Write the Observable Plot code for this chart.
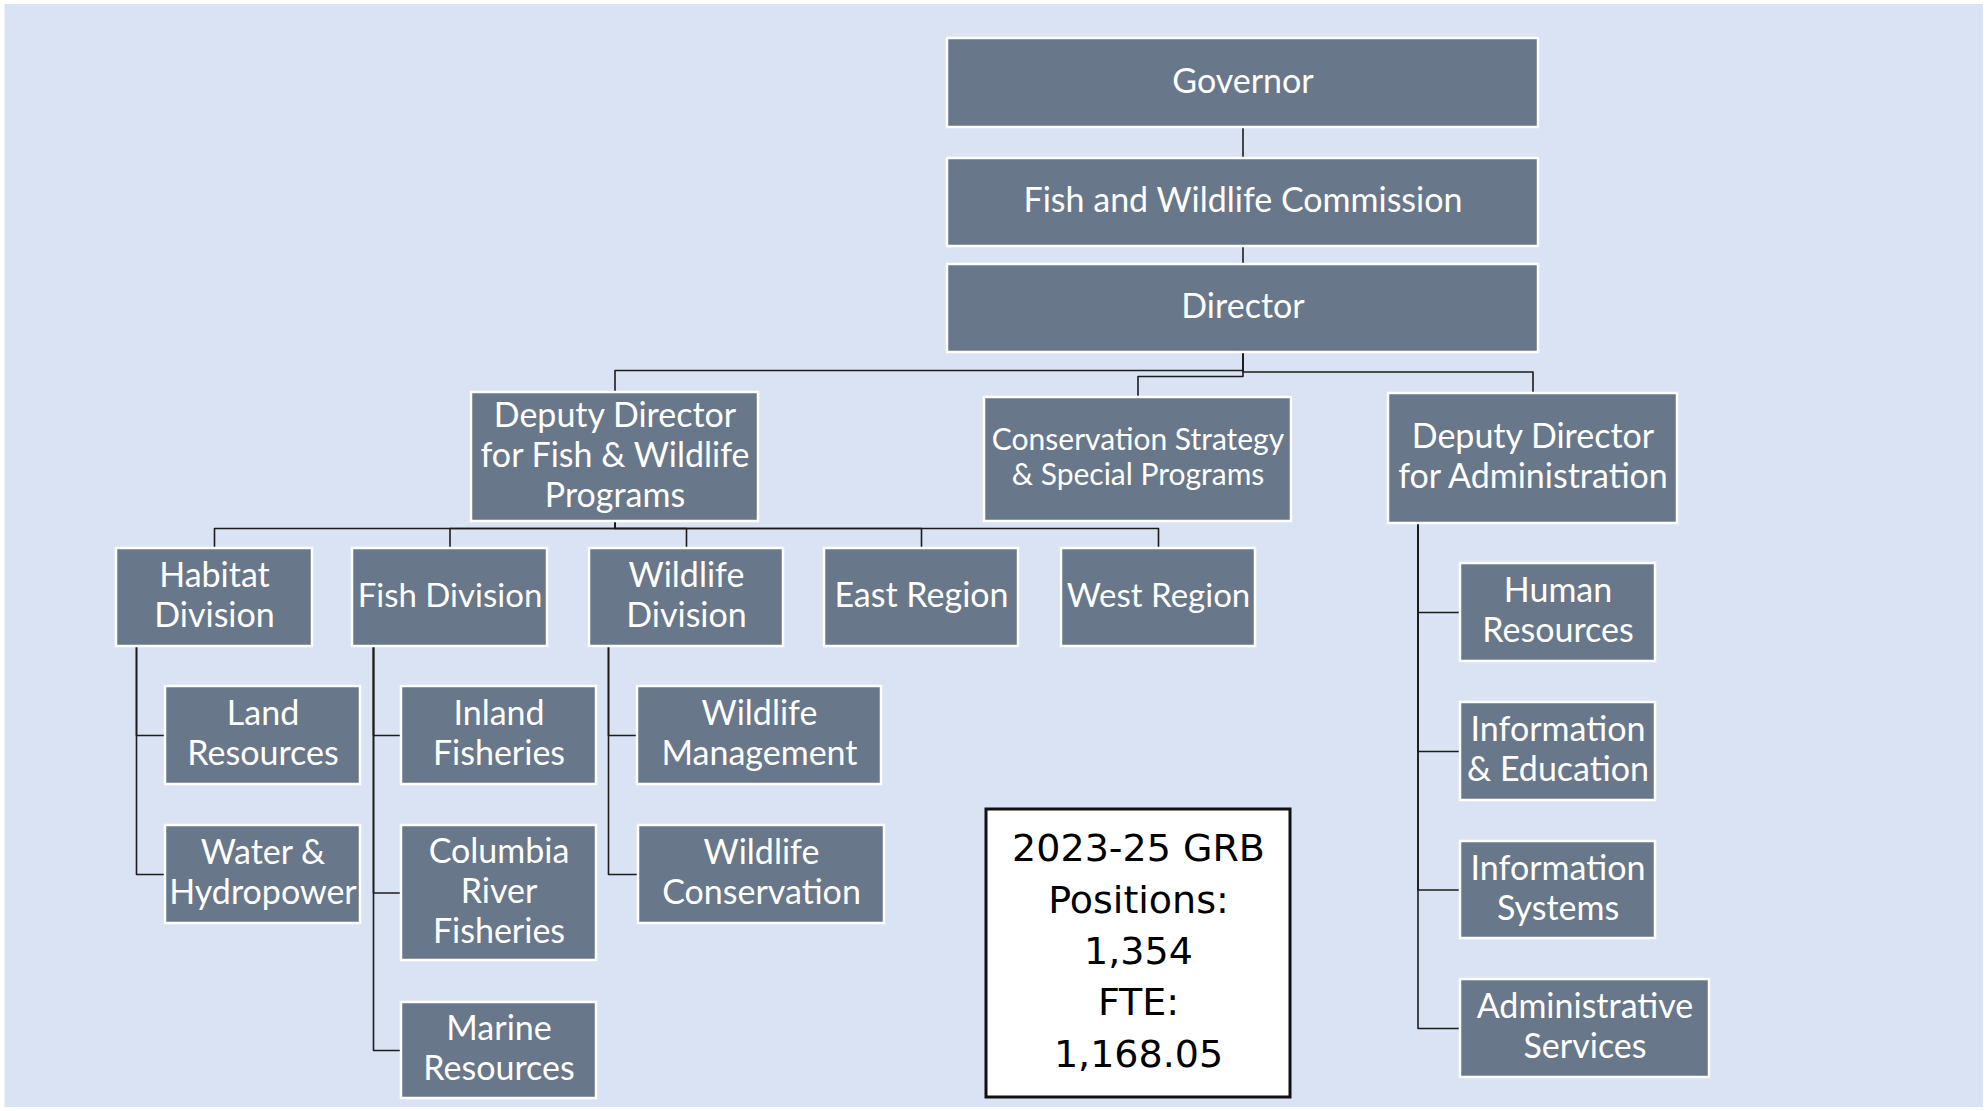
<!DOCTYPE html>
<html><head><meta charset="utf-8">
<script src="https://cdn.jsdelivr.net/npm/d3@7"></script>
<script src="https://cdn.jsdelivr.net/npm/@observablehq/plot@0.6"></script>
<style>html,body{margin:0;padding:0;background:#fff;overflow:hidden}svg{display:block}</style>
</head><body><div id="chart"></div>
<script>
// ---- DATA: organisation units and reporting lines ----
const unitIds = ["gov","comm","dir","ddfw","csp","ddadm","hab","fish","wild","east","west",
  "land","water","inland","columbia","marine","wmgmt","wcons","hr","ie","is","as"];
const unitLabels = ["Governor","Fish and Wildlife Commission","Director",
  "Deputy Director\nfor Fish & Wildlife\nPrograms","Conservation Strategy\n& Special Programs",
  "Deputy Director\nfor Administration","Habitat\nDivision","Fish Division","Wildlife\nDivision",
  "East Region","West Region","Land\nResources","Water &\nHydropower","Inland\nFisheries",
  "Columbia\nRiver\nFisheries","Marine\nResources","Wildlife\nManagement","Wildlife\nConservation",
  "Human\nResources","Information\n& Education","Information\nSystems","Administrative\nServices"];
const unitParents = [null,"gov","comm","dir","dir","dir","ddfw","ddfw","ddfw","ddfw","ddfw",
  "hab","hab","fish","fish","fish","wild","wild","ddadm","ddadm","ddadm","ddadm"];
const summaryTitle = "2023-25 GRB";
const summaryPositions = 1354;
const summaryFTE = 1168.05;

// ---- LAYOUT (chart-space units, drawn through the x/y scales) ----
const boxLeft   = [947,947,947,471,984,1388,116,352,589,824,1061,165,165,401,401,401,637,638,1460,1460,1460,1460];
const boxRight  = [1538,1538,1538,758,1291,1677,312,547,783,1018,1255,360,360,596,596,596,881,884,1655,1655,1655,1709];
const boxTop    = [38,158,264,392,397,393,548,548,548,548,548,686,825,686,825,1002,686,825,563,702,841,979];
const boxBottom = [127,246,352,521,521,523,646,646,646,646,646,784,923,784,960,1098,784,923,661,800,938,1077];
const labelSize = [34,34,34,34,30,34,34,33,34,34,33,34,34,34,34,34,34,34,34,34,34,34];
const labelShift = -3;
// elbow connectors (drop from parent): horizontal run height per child
const elbowMid = {comm:140, dir:255, ddfw:370, csp:376, ddadm:371.5, hab:528, fish:528, wild:528, east:528, west:528};
// side connectors (trunk beside the children): trunk x per parent
const trunkX = {hab:136, fish:373, wild:608, ddadm:1417.5};
const summaryBox = {x1:986, x2:1290, y1:809, y2:1097, cy:947};
const canvas = {x1:4.5, x2:1983, y1:4, y2:1107};

const nodes = unitIds.map((id,i)=>({id, label:unitLabels[i], parent:unitParents[i],
  x1:boxLeft[i], x2:boxRight[i], y1:boxTop[i], y2:boxBottom[i], size:labelSize[i]}));
const byId = new Map(nodes.map(d=>[d.id,d]));
const cx = d => (d.x1+d.x2)/2, cy = d => (d.y1+d.y2)/2;

const linkPts = [];
nodes.forEach(c=>{
  if(!c.parent) return;
  const p = byId.get(c.parent);
  let pts;
  if (trunkX[p.id] !== undefined) {
    const t = trunkX[p.id];
    pts = [[t,p.y2],[t,cy(c)],[c.x1,cy(c)]];
  } else {
    const m = elbowMid[c.id];
    pts = [[cx(p),p.y2],[cx(p),m],[cx(c),m],[cx(c),c.y1]];
  }
  pts.forEach(([x,y])=>linkPts.push({k:c.id,x,y}));
});

const summaryText = [summaryTitle, "Positions:", d3.format(",")(summaryPositions), "FTE:", d3.format(",.2f")(summaryFTE)].join("\n");

const chart = Plot.plot({
  width:1988, height:1111,
  marginTop:0, marginRight:0, marginBottom:0, marginLeft:0,
  x:{domain:[0,1988], range:[0,1988], axis:null},
  y:{domain:[0,1111], range:[0,1111], axis:null},
  style:{background:"#fff", fontFamily:"Lato", overflow:"visible"},
  marks:[
    Plot.rect([canvas],{x1:"x1",x2:"x2",y1:"y1",y2:"y2",fill:"#dae3f3"}),
    Plot.line(linkPts,{x:"x",y:"y",z:"k",stroke:"#1c1c1c",strokeWidth:1.6,curve:"linear"}),
    Plot.rect(nodes,{x1:"x1",x2:"x2",y1:"y1",y2:"y2",fill:"#687789",stroke:"#ffffff",strokeWidth:2.5}),
    Plot.text(nodes,{x:cx,y:d=>cy(d)+labelShift,text:"label",fill:"#ffffff",fontSize:"size",lineHeight:1.17,fontFamily:"Lato",textAnchor:"middle"}),
    Plot.rect([summaryBox],{x1:"x1",x2:"x2",y1:"y1",y2:"y2",fill:"#ffffff",stroke:"#111",strokeWidth:3}),
    Plot.text([summaryBox],{x:d=>(d.x1+d.x2)/2,y:"cy",text:()=>summaryText,fill:"#000",fontSize:38,lineHeight:1.35,fontFamily:"DejaVu Sans",textAnchor:"middle"})
  ]
});
document.getElementById("chart").appendChild(chart);
</script></body></html>
